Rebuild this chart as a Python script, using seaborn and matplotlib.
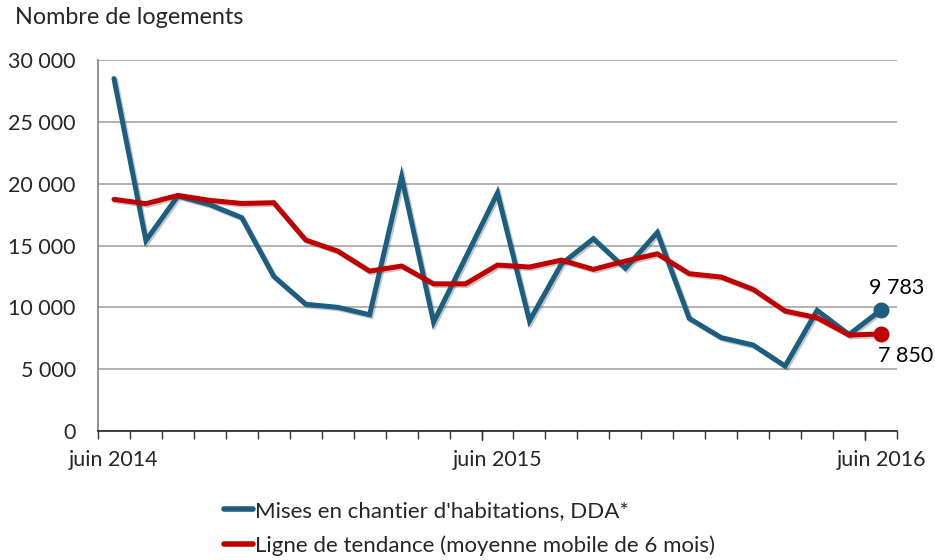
import matplotlib
matplotlib.use("Agg")
import matplotlib.pyplot as plt
import matplotlib.patheffects as pe
import seaborn as sns
import pandas as pd
import numpy as np

months = ["juin 2014", "juil. 2014", "août 2014", "sept. 2014", "oct. 2014", "nov. 2014",
          "déc. 2014", "janv. 2015", "févr. 2015", "mars 2015", "avr. 2015", "mai 2015",
          "juin 2015", "juil. 2015", "août 2015", "sept. 2015", "oct. 2015", "nov. 2015",
          "déc. 2015", "janv. 2016", "févr. 2016", "mars 2016", "avr. 2016", "mai 2016",
          "juin 2016"]
mises_en_chantier = [28500, 15400, 19000, 18300, 17250, 12500, 10250, 10000, 9400, 20550,
                     8800, 14000, 19250, 8900, 13500, 15550, 13150, 16050, 9100, 7550,
                     6950, 5250, 9750, 7800, 9783]
tendance = [18730, 18380, 19050, 18650, 18400, 18460, 15440, 14550, 12930, 13340,
            11900, 11900, 13420, 13260, 13820, 13070, 13740, 14330, 12720, 12450,
            11450, 9700, 9160, 7760, 7850]
series_names = ["Mises en chantier d'habitations, DDA*",
                "Ligne de tendance (moyenne mobile de 6 mois)"]
xtick_labels = {0: "juin 2014", 12: "juin 2015", 24: "juin 2016"}
ytick_values = [0, 5000, 10000, 15000, 20000, 25000, 30000]

BLUE = "#1B5E80"
RED = "#C00000"
FONT = ["Lato", "DejaVu Sans"]

sns.set_theme(style="white")
plt.rcParams["font.family"] = FONT

df = pd.DataFrame({
    "mois": list(range(len(months))) * 2,
    "valeur": mises_en_chantier + tendance,
    "serie": [series_names[0]] * len(months) + [series_names[1]] * len(months),
})

fig = plt.figure(figsize=(9.35, 5.6), dpi=100)
ax = fig.add_axes([98 / 935, 1 - 431 / 560, (897 - 98) / 935, (431 - 60) / 560])

shadow = [pe.SimpleLineShadow(offset=(1.2, -1.2), alpha=0.3, shadow_color="#444444"), pe.Normal()]
sns.lineplot(data=df, x="mois", y="valeur", hue="serie", hue_order=series_names,
             palette=[BLUE, RED], linewidth=3.6, ax=ax, legend=True,
             path_effects=shadow)
for line in ax.lines:
    line.set_solid_joinstyle("miter")

last = len(months) - 1
ax.scatter([last], [mises_en_chantier[-1]], s=110, color=BLUE, zorder=5)
ax.scatter([last], [tendance[-1]], s=110, color=RED, zorder=5)
ax.annotate(f"{mises_en_chantier[-1]:,}".replace(",", " "), (last, mises_en_chantier[-1]),
            xytext=(-9, 9), textcoords="offset points", fontsize=15.5, color="black",
            ha="left", va="bottom")
ax.annotate(f"{tendance[-1]:,}".replace(",", " "), (last, tendance[-1]),
            xytext=(-2, -9), textcoords="offset points", fontsize=15.5, color="black",
            ha="left", va="top", annotation_clip=False)

ax.set_xlim(-0.5, len(months) - 0.5)
ax.set_ylim(0, 30000)
ax.set_yticks(ytick_values)
ax.set_yticklabels([f"{v:,}".replace(",", " ") for v in ytick_values], fontsize=15.5)
ax.yaxis.grid(True, color="#A6A6A6", linewidth=1.2)
ax.set_axisbelow(True)

ax.set_xticks(list(xtick_labels.keys()))
ax.set_xticklabels(list(xtick_labels.values()), fontsize=15.5)
ax.tick_params(axis="x", which="both", bottom=True)
ax.tick_params(axis="x", which="major", length=0, pad=14)
ax.set_xticks(np.arange(-0.5, len(months), 1), minor=True)
ax.tick_params(axis="x", which="minor", length=6, width=1, color="#333333", direction="out")
ax.tick_params(axis="y", length=0, pad=16)
for pos in [11.5, 23.5]:
    ax.plot([pos, pos], [0, -0.025], transform=ax.get_xaxis_transform(), color="#333333",
            linewidth=1, clip_on=False)

ax.set_xlabel("")
ax.set_ylabel("")
for side in ["top", "right"]:
    ax.spines[side].set_visible(False)
ax.spines["left"].set_color("#7F7F7F")
ax.spines["left"].set_linewidth(1.2)
ax.spines["bottom"].set_color("#222222")
ax.spines["bottom"].set_linewidth(1.2)

fig.text(15 / 935, 1 - 18 / 560, "Nombre de logements", fontsize=16.8, ha="left", va="center")

leg = ax.legend(loc="upper left", bbox_to_anchor=(215 / 935, 1 - 492 / 560),
                bbox_transform=fig.transFigure, frameon=False, fontsize=16,
                handlelength=1.3, handletextpad=0.1, labelspacing=0.65, borderaxespad=0)
for h in leg.get_lines():
    h.set_linewidth(4)
    h.set_path_effects([])

fig.savefig("out.png", dpi=100)
